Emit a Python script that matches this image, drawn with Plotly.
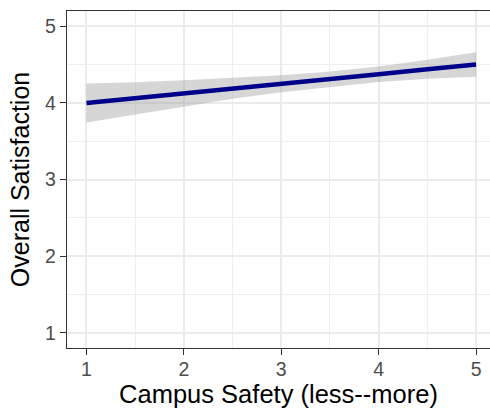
import plotly.graph_objects as go

# Data
x_vals = [1, 1.5, 2, 2.5, 3, 3.5, 4, 4.5, 5]
fit = [4.00, 4.06, 4.125, 4.19, 4.25, 4.31, 4.375, 4.44, 4.50]
lower = [3.745, 3.85, 3.955, 4.055, 4.138, 4.21, 4.273, 4.315, 4.34]
upper = [4.255, 4.27, 4.295, 4.325, 4.362, 4.41, 4.477, 4.565, 4.66]
tick_vals = [1, 2, 3, 4, 5]
tick_text = ["1", "2", "3", "4", "5"]
x_title = "Campus Safety (less--more)"
y_title = "Overall Satisfaction"

FONT = "Liberation Sans, Arial, Helvetica, sans-serif"

fig = go.Figure()
fig.add_trace(go.Scatter(x=x_vals, y=lower, mode="lines", line=dict(width=0),
                         hoverinfo="skip", showlegend=False))
fig.add_trace(go.Scatter(x=x_vals, y=upper, mode="lines", line=dict(width=0),
                         fill="tonexty", fillcolor="rgba(153,153,153,0.4)",
                         hoverinfo="skip", showlegend=False))
fig.add_trace(go.Scatter(x=x_vals, y=fit, mode="lines",
                         line=dict(color="#00008B", width=4.5),
                         showlegend=False))

axis_common = dict(
    showgrid=True, gridcolor="#EBEBEB", gridwidth=1.5,
    minor=dict(showgrid=True, gridcolor="#EFEFEF", gridwidth=0.8, dtick=0.5),
    zeroline=False,
    showline=True, linecolor="#333333", linewidth=1.3,
    ticks="outside", ticklen=6, tickwidth=1.4, tickcolor="#333333",
    tickfont=dict(family=FONT, size=19.5, color="#4D4D4D"),
    tickvals=tick_vals, ticktext=tick_text,
)

fig.update_layout(
    width=490, height=409,
    margin=dict(l=67, r=0, t=11, b=61),
    paper_bgcolor="white", plot_bgcolor="white",
    font=dict(family=FONT),
    xaxis=dict(range=[0.8, 5.143], mirror=True, ticklabelstandoff=-3,
               title=dict(text=x_title, font=dict(family=FONT, size=25.5, color="black"), standoff=6),
               **axis_common),
    yaxis=dict(range=[0.8, 5.2], mirror=False,
               title=dict(text=y_title, font=dict(family=FONT, size=25, color="black"), standoff=8),
               **axis_common),
)

fig.write_html("out.html")
